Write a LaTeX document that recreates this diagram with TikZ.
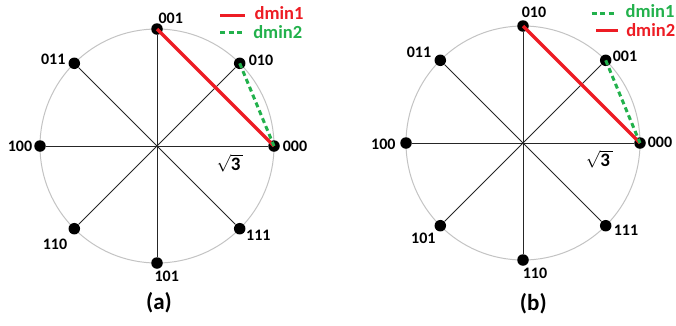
\documentclass[tikz,border=0pt]{standalone}
\usepackage{fontspec}
\setmainfont{Carlito}
\usepackage{tikz}
\definecolor{dred}{RGB}{237,28,36}
\definecolor{dgreen}{RGB}{34,177,76}
\definecolor{ringgray}{RGB}{195,195,195}

\begin{document}
\begin{tikzpicture}[x=1pt, y=-1pt,
      dot/.style={circle, fill=black, inner sep=0pt, minimum size=11.5pt},
      spoke/.style={line width=0.8pt, black!85},
      ring/.style={draw=ringgray, line width=1pt},
      lbl/.style={font=\fontsize{16}{16}\selectfont\bfseries, inner sep=0pt},
      root/.style={font=\fontsize{19}{19}\selectfont\bfseries, inner sep=0pt},
      leg/.style={font=\fontsize{18.5}{18.5}\selectfont\bfseries, inner sep=0pt},
      subcap/.style={font=\fontsize{23}{23}\selectfont\bfseries, inner sep=0pt},
      dfirst/.style={dred, line width=3.5pt},
      dsecond/.style={dgreen, line width=3pt, dash pattern=on 5pt off 3.5pt}
    ]
      \useasboundingbox (0,0) rectangle (676,325);

      % (a)
      \coordinate (oa) at (157,146);
      \draw[ring] (oa) circle[radius=117];
      \node[dot] (a000) at (274,146) {};
      \node[dot] (a010) at (239.7,63.3) {};
      \node[dot] (a001) at (157,29) {};
      \node[dot] (a011) at (74.3,63.3) {};
      \node[dot] (a100) at (40,146) {};
      \node[dot] (a110) at (74.3,228.7) {};
      \node[dot] (a101) at (157,263) {};
      \node[dot] (a111) at (239.7,228.7) {};

      \draw[spoke] (a000) -- (a100);
      \draw[spoke] (a001) -- (a101);
      \draw[spoke] (a010) -- (a110);
      \draw[spoke] (a011) -- (a111);
      \draw[dfirst] (a001.center) -- (a000.center);
      \draw[dsecond] (a010.center) -- (a000.center);

      \node[lbl] (la001) at (170.7,18.3) {001};
      \node[lbl] (la010) at (261,60) {010};
      \node[lbl] (la011) at (53.3,59.3) {011};
      \node[lbl] (la100) at (20,146.7) {100};
      \node[lbl] (la000) at (295,146.7) {000};
      \node[lbl] (la111) at (258.3,235) {111};
      \node[lbl] (la110) at (55,244.3) {110};
      \node[lbl] (la101) at (166.7,276.7) {101};
      \node[root] (sqa) at (230,163) {$\sqrt{\hbox{\bfseries 3}\,}$};

      \coordinate (ka1) at (220,15.7);
      \coordinate (ka1e) at (245,15.7);
      \coordinate (ka2) at (220,32.3);
      \coordinate (ka2e) at (244,32.3);
      \draw[dfirst] (ka1) -- (ka1e);
      \draw[dsecond] (ka2) -- (ka2e);
      \node[leg, text=dred] (ta1) at (279,13) {dmin1};
      \node[leg, text=dgreen] (ta2) at (277.7,31.7) {dmin2};
      \node[subcap] (capa) at (159,303) {(a)};

      % (b)
      \coordinate (ob) at (523,143);
      \draw[ring] (ob) circle[radius=117];
      \node[dot] (b000) at (640,143) {};
      \node[dot] (b001) at (605.7,60.3) {};
      \node[dot] (b010) at (523,26) {};
      \node[dot] (b011) at (440.3,60.3) {};
      \node[dot] (b100) at (406,143) {};
      \node[dot] (b101) at (440.3,225.7) {};
      \node[dot] (b110) at (523,260) {};
      \node[dot] (b111) at (605.7,225.7) {};

      \draw[spoke] (b000) -- (b100);
      \draw[spoke] (b010) -- (b110);
      \draw[spoke] (b001) -- (b101);
      \draw[spoke] (b011) -- (b111);
      \draw[dfirst] (b010.center) -- (b000.center);
      \draw[dsecond] (b001.center) -- (b000.center);

      \node[lbl] (lb010) at (534,12.3) {010};
      \node[lbl] (lb001) at (625,56.7) {001};
      \node[lbl] (lb011) at (419,52.3) {011};
      \node[lbl] (lb100) at (383.3,144) {100};
      \node[lbl] (lb000) at (660,142.7) {000};
      \node[lbl] (lb111) at (626,230) {111};
      \node[lbl] (lb101) at (423.3,238.3) {101};
      \node[lbl] (lb110) at (535,273.3) {110};
      \node[root] (sqb) at (599.3,159.3) {$\sqrt{\hbox{\bfseries 3}\,}$};

      \coordinate (kb1) at (591.7,13.3);
      \coordinate (kb1e) at (616.7,13.3);
      \coordinate (kb2) at (596,30.7);
      \coordinate (kb2e) at (618,30.7);
      \draw[dsecond] (kb1) -- (kb1e);
      \draw[dfirst] (kb2) -- (kb2e);
      \node[leg, text=dgreen] (tb1) at (650,11.5) {dmin1};
      \node[leg, text=dred] (tb2) at (650.7,30) {dmin2};
      \node[subcap] (capb) at (533.3,303.3) {(b)};
    \end{tikzpicture}
\end{document}
